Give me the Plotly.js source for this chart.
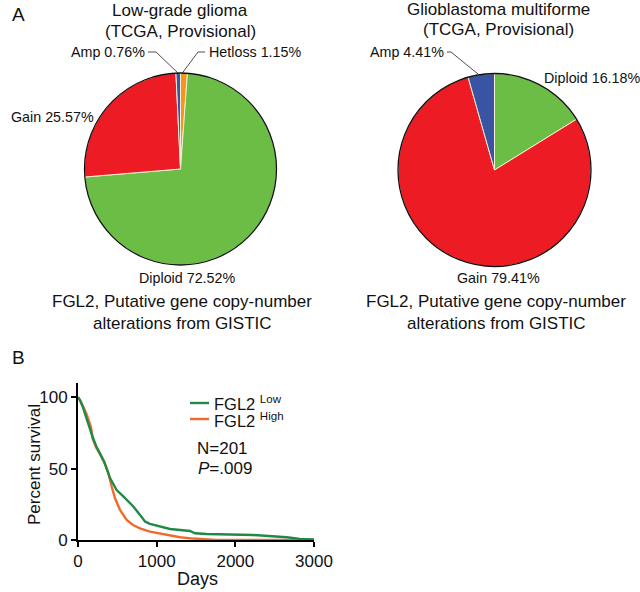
<!DOCTYPE html>
<html>
<head>
<meta charset="utf-8">
<script src="https://cdn.plot.ly/plotly-3.0.1.min.js"></script>
<style>html,body{margin:0;padding:0;background:#fff;}#chart{width:640px;height:592px;}</style>
</head>
<body>
<div id="chart"></div>
<script>
// ---- Data ----
const lggLabels = ["Hetloss", "Diploid", "Gain", "Amp"];
const lggValues = [1.15, 72.52, 25.57, 0.76];
const gbmLabels = ["Diploid", "Gain", "Amp"];
const gbmValues = [16.18, 79.41, 4.41];

const lowDays = [0, 25, 60, 102, 144, 187, 229, 292, 335, 407, 491, 576, 703, 788, 830, 852, 915, 1042, 1169, 1424, 1487, 1636, 1932, 2225, 2653, 2822, 3000];
const lowPct  = [100, 98, 93.4, 86, 79, 72, 66, 59, 54.7, 43.4, 35, 30.5, 23.5, 17.6, 14, 12.9, 11.3, 9.4, 7.7, 6.3, 4.7, 4.2, 4.0, 3.5, 1.9, 0.8, 0.3];
const highDays = [0, 25, 60, 110, 165, 187, 229, 292, 343, 385, 428, 470, 534, 619, 700, 788, 915, 1042, 1169, 1297, 1462, 1650, 1760, 2800];
const highPct  = [100, 98, 94, 88, 79, 71, 65, 59, 53, 47, 37.5, 29.4, 21, 14, 10.5, 8.2, 5.9, 4.7, 3.5, 1.9, 1.0, 0.6, 0, 0];

const xTicks = [0, 1000, 2000, 3000];
const yTicks = [0, 50, 100];

// ---- Styles ----
const FONT = "Liberation Sans, Arial, Helvetica, sans-serif";
const W = 640, H = 592;
const px = x => x / W;
const py = y => 1 - y / H;
const colors = {Diploid: "#6cbd45", Gain: "#ed1c24", Amp: "#3a54a4", Hetloss: "#f7941d"};
const sliceLine = {color: "#f3eed6", width: 1};
const GREEN = "#1f8a45", ORANGE = "#f26a2a";

const lggDomain = {x: [px(84.5), px(276.5)], y: [py(265), py(73)]};
const gbmDomain = {x: [px(398), px(591)], y: [py(266.5), py(73.5)]};

function pieTrace(labels, values, domain) {
  return {
    type: "pie", labels: labels, values: values, domain: domain,
    sort: false, direction: "clockwise", rotation: 0,
    marker: {colors: labels.map(l => colors[l]), line: sliceLine},
    textinfo: "none", hoverinfo: "none", showlegend: false
  };
}
function outlineTrace(domain) {
  return {
    type: "pie", labels: ["o"], values: [1], domain: domain, sort: false,
    marker: {colors: ["rgba(0,0,0,0)"], line: {color: "#111", width: 1.3}},
    textinfo: "none", hoverinfo: "none", showlegend: false
  };
}

const traces = [
  pieTrace(lggLabels, lggValues, lggDomain),
  outlineTrace(lggDomain),
  pieTrace(gbmLabels, gbmValues, gbmDomain),
  outlineTrace(gbmDomain),
  {type: "scatter", mode: "lines", x: highDays, y: highPct, line: {color: ORANGE, width: 2.4},
   name: "FGL2 High", showlegend: false, hoverinfo: "none"},
  {type: "scatter", mode: "lines", x: lowDays, y: lowPct, line: {color: GREEN, width: 2.4},
   name: "FGL2 Low", showlegend: false, hoverinfo: "none"}
];

function ann(text, x, y, opts) {
  return Object.assign({text: text, x: px(x), y: py(y), xref: "paper", yref: "paper",
    showarrow: false, xanchor: "center", yanchor: "middle",
    font: {family: FONT, size: 14.3, color: "#111"}}, opts || {});
}
const big = {font: {family: FONT, size: 17, color: "#111"}};
const leg = {xanchor: "left", font: {family: FONT, size: 16.5, color: "#111"}};

const annotations = [
  ann("A", 10, 15, {font: {family: FONT, size: 19, color: "#111"}, xanchor: "left"}),
  ann("B", 10, 357, {font: {family: FONT, size: 19, color: "#111"}, xanchor: "left"}),
  ann("Low-grade glioma", 180, 11, big),
  ann("(TCGA, Provisional)", 180, 31, big),
  ann("Glioblastoma multiforme", 498, 9, big),
  ann("(TCGA, Provisional)", 498, 30, big),
  ann("FGL2, Putative gene copy-number", 182, 301, big),
  ann("alterations from GISTIC", 182, 323, big),
  ann("FGL2, Putative gene copy-number", 496, 301, big),
  ann("alterations from GISTIC", 496, 323, big),
  ann("Amp 0.76%", 147, 52, {xanchor: "right"}),
  ann("Hetloss 1.15%", 207, 52, {xanchor: "left"}),
  ann("Gain 25.57%", 96, 117, {xanchor: "right"}),
  ann("Diploid 72.52%", 187, 278),
  ann("Amp 4.41%", 446, 52, {xanchor: "right"}),
  ann("Diploid 16.18%", 542, 78, {xanchor: "left"}),
  ann("Gain 79.41%", 498, 278),
  ann("FGL2 <sup>Low</sup>", 212, 403, leg),
  ann("FGL2 <sup>High</sup>", 212, 420, leg),
  ann("N=201", 222, 448, big),
  ann("<i>P</i>=.009", 225, 468, big),
  ann("Percent survival", 34, 465, {textangle: -90, font: {family: FONT, size: 17, color: "#111"}}),
  ann("Days", 197, 579, {font: {family: FONT, size: 18, color: "#111"}})
];

function seg(x0, y0, x1, y1, color, width) {
  return {type: "line", xref: "paper", yref: "paper", x0: px(x0), y0: py(y0), x1: px(x1), y1: py(y1),
    line: {color: color || "#222", width: width || 0.8}};
}
const shapes = [
  seg(148, 52, 156, 52), seg(156, 52, 178.5, 73.5),
  seg(205, 52, 198, 52), seg(198, 52, 182, 73.5),
  seg(447, 52, 451, 52), seg(451, 52, 478, 74),
  seg(190, 403, 209, 403, GREEN, 2.4),
  seg(190, 419, 209, 419, ORANGE, 2.4)
];

const axisCommon = {
  showgrid: false, zeroline: false, showline: true, linecolor: "#000", linewidth: 2,
  ticks: "outside", ticklen: 5, tickwidth: 2, tickcolor: "#000",
  tickfont: {family: FONT, size: 17, color: "#111"}, fixedrange: true
};

const layout = {
  width: W, height: H,
  margin: {l: 0, r: 0, t: 0, b: 0, pad: 0},
  paper_bgcolor: "#fff", plot_bgcolor: "rgba(0,0,0,0)",
  showlegend: false,
  xaxis: Object.assign({}, axisCommon, {domain: [px(78), px(314)], range: [0, 3000], tickvals: xTicks, anchor: "y"}),
  yaxis: Object.assign({}, axisCommon, {domain: [py(540), py(383)], range: [0, 110], tickvals: yTicks, anchor: "x"}),
  annotations: annotations,
  shapes: shapes
};

Plotly.newPlot("chart", traces, layout, {staticPlot: true, displayModeBar: false});
</script>
</body>
</html>
